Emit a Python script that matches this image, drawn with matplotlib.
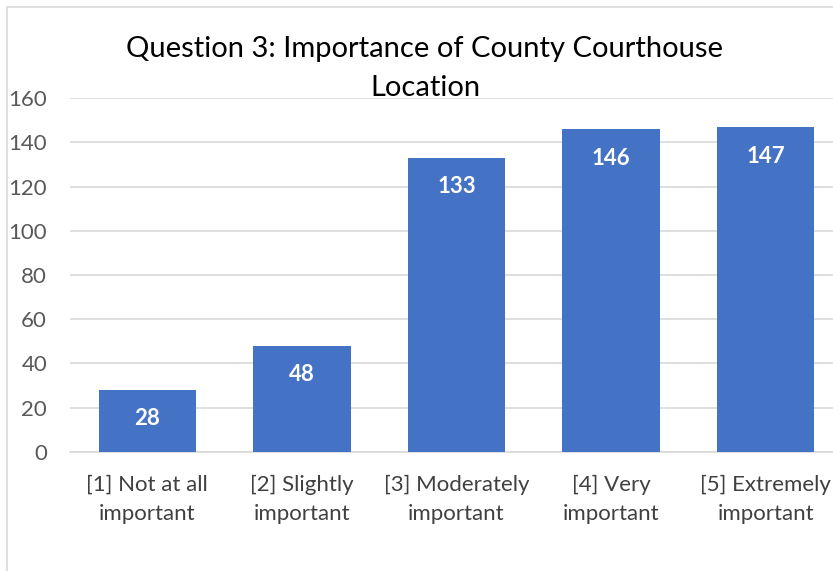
import matplotlib
matplotlib.use("Agg")
import matplotlib.pyplot as plt
from matplotlib.patches import Rectangle

categories = ["[1] Not at all\nimportant", "[2] Slightly\nimportant", "[3] Moderately\nimportant",
              "[4] Very\nimportant", "[5] Extremely\nimportant"]
values = [28, 48, 133, 146, 147]
yticks = [0, 20, 40, 60, 80, 100, 120, 140, 160]
title = "Question 3: Importance of County Courthouse\nLocation"

plt.rcParams['font.family'] = ['Lato', 'DejaVu Sans']

W, H = 833, 571
fig = plt.figure(figsize=(W / 100, H / 100), dpi=100)
fig.patch.set_facecolor('white')

# chart border (cropped on right/bottom)
fig.patches.append(Rectangle((7 / W, -0.1), 1.2, 1 - 7 / H + 0.1, transform=fig.transFigure,
                             fill=False, edgecolor='#d9d9d9', linewidth=1.2))

left, right = 70, 843
bottom, top = 451.7, 98.3
ax = fig.add_axes([left / W, 1 - bottom / H, (right - left) / W, (bottom - top) / H])
ax.set_facecolor('none')

x = list(range(len(values)))
bars = ax.bar(x, values, width=0.63, color='#4472C4', zorder=3)
ax.set_xlim(-0.5, len(values) - 0.5)
ax.set_ylim(0, 160)
ax.set_yticks(yticks)
ax.set_yticklabels([str(t) for t in yticks], color='#595959', fontsize=16)
ax.set_xticks(x)
ax.set_xticklabels(categories, color='#404040', fontsize=16, linespacing=1.6)
ax.tick_params(axis='both', length=0)
ax.tick_params(axis='y', pad=16.5)
ax.tick_params(axis='x', pad=16.5)
ax.grid(axis='y', color='#d9d9d9', linewidth=1.2, zorder=0)
for s in ['top', 'right', 'left']:
    ax.spines[s].set_visible(False)
ax.spines['bottom'].set_color('#d9d9d9')
ax.spines['bottom'].set_linewidth(1.2)

for b, v in zip(bars, values):
    ax.annotate(str(v), (b.get_x() + b.get_width() / 2, v), xytext=(0, -29),
                textcoords='offset pixels', ha='center', va='center',
                color='white', fontweight='bold', fontsize=16, zorder=4)

fig.text(425 / W, 1 - 68.5 / H, title, ha='center', va='center', fontsize=21,
         color='black', linespacing=1.58)

fig.savefig('out.png', dpi=100)
